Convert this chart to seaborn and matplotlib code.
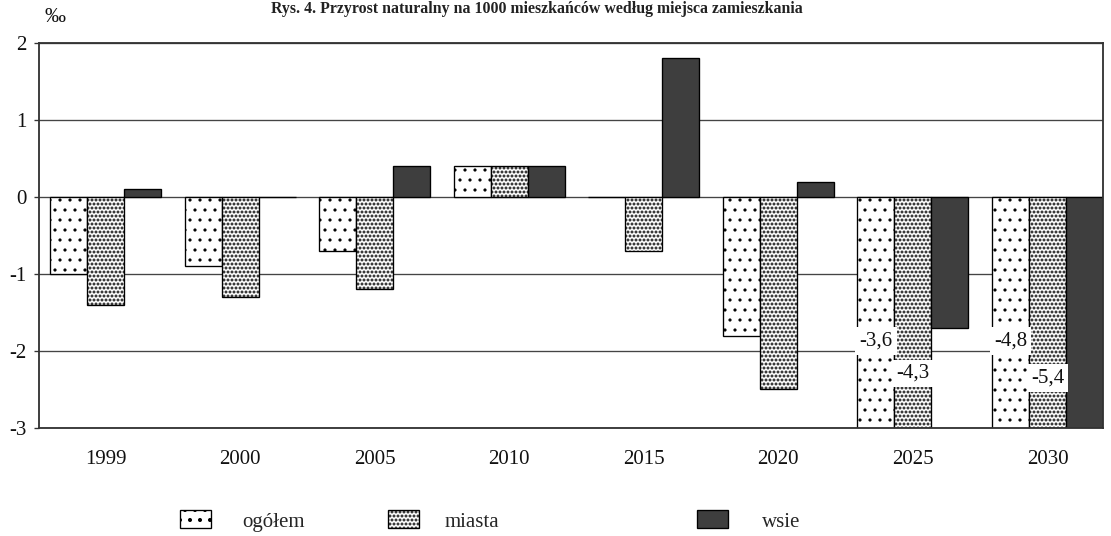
import numpy as np
import pandas as pd
import matplotlib
matplotlib.use('Agg')
import matplotlib.pyplot as plt
import seaborn as sns

# ---- data ----
years = ['1999', '2000', '2005', '2010', '2015', '2020', '2025', '2030']
series = ['ogółem', 'miasta', 'wsie']
ogolem = [-1.0, -0.9, -0.7, 0.4, 0.0, -1.8, -3.6, -4.8]
miasta = [-1.4, -1.3, -1.2, 0.4, -0.7, -2.5, -4.3, -5.4]
wsie = [0.1, 0.0, 0.4, 0.4, 1.8, 0.2, -1.7, -3.0]
y_ticks = [-3, -2, -1, 0, 1, 2]
title = "Rys. 4. Przyrost naturalny na 1000 mieszkańców według miejsca zamieszkania"
unit = "‰"

sns.set_theme(style='white')
plt.rcParams['font.family'] = ['Liberation Serif', 'DejaVu Serif']
plt.rcParams['hatch.linewidth'] = 1.2
plt.rcParams['hatch.color'] = 'black'

df = pd.DataFrame({
    'rok': years * 3,
    'seria': np.repeat(series, len(years)),
    'wartosc': ogolem + miasta + wsie,
})

W, H, DPI = 1111, 536, 120
fig = plt.figure(figsize=(W / DPI, H / DPI), dpi=DPI)
fig.patch.set_facecolor('white')
ax = fig.add_axes([39 / W, 1 - 428 / H, (1103 - 39) / W, (428 - 43) / H])

sns.barplot(data=df, x='rok', y='wartosc', hue='seria', order=years,
            hue_order=series, palette=['white', 'white', '#3e3e3e'],
            saturation=1, width=0.825, gap=0, edgecolor='black',
            linewidth=0.8, legend=False, errorbar=None, ax=ax)

hatches = ['..', '.....', None]
hatch_lw = [0.7, 1.2, None]
for cont, h, hl in zip(ax.containers, hatches, hatch_lw):
    for p in cont.patches:
        if h:
            p.set_hatch(h)
            if hasattr(p, 'set_hatch_linewidth'):
                try:
                    p.set_hatch_linewidth(hl)
                except Exception:
                    pass

ax.set_ylim(-3, 2)
ax.set_xlim(-0.494, 7.4125)
ax.set_yticks(y_ticks)
ax.set_yticklabels([str(t) for t in y_ticks])
ax.set_xlabel('')
ax.set_ylabel('')
ax.set_axisbelow(True)
ax.yaxis.grid(True, color='#444444', linewidth=0.8)
ax.xaxis.grid(False)
for s in ax.spines.values():
    s.set_visible(True)
    s.set_color('#333333')
    s.set_linewidth(1.1)

ax.tick_params(axis='y', left=True, length=3, width=0.8, color='#333333',
               direction='out', pad=4.5, labelsize=12.5, labelcolor='#111111')
ax.tick_params(axis='x', bottom=False, length=0, pad=13, labelsize=12.5,
               labelcolor='#111111')

# value labels for clipped bars
bw = 0.825 / 3
label_y = {('ogółem', 6): -1.87, ('miasta', 6): -2.29,
           ('ogółem', 7): -1.87, ('miasta', 7): -2.35}
vals = {'ogółem': ogolem, 'miasta': miasta}
offs = {'ogółem': -bw, 'miasta': 0.0}
for (ser, i), yy in label_y.items():
    v = vals[ser][i]
    ax.text(i + offs[ser], yy, f"{v:.1f}".replace('.', ','), ha='center',
            va='center', fontsize=12.5, color='#111111',
            bbox=dict(facecolor='white', edgecolor='none', pad=2.5))

# unit and title
fig.text(55 / W, 1 - 18 / H, unit, ha='center', va='center', fontsize=12.5,
         color='#111111')
fig.text(537 / W, 1 - 1 / H, title, ha='center', va='top', fontsize=9.5,
         fontweight='bold', color='#222222')

# legend entries
anchors = [180 / W, 388 / W, 697 / W]
pads = [1.5, 1.2, 1.6]
for cont, lab, xa, tp in zip(ax.containers, series, anchors, pads):
    fig.legend(handles=[cont], labels=[lab], loc='center left',
               bbox_to_anchor=(xa, 1 - 521 / H), frameon=False,
               fontsize=12.5, handlelength=1.5, handleheight=0.95,
               handletextpad=tp, borderpad=0, borderaxespad=0)

fig.savefig('out.png', dpi=DPI, facecolor='white')
